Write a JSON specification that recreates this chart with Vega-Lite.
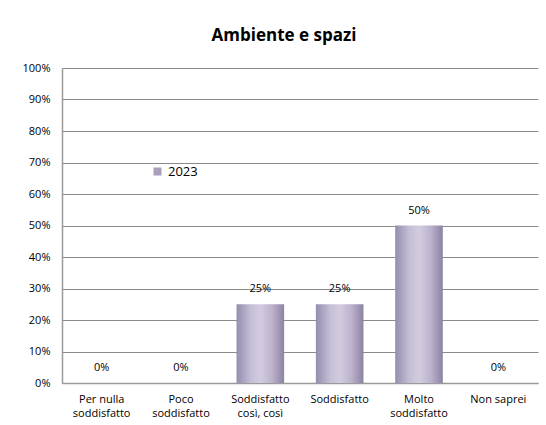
{
  "$schema": "https://vega.github.io/schema/vega-lite/v6.json",
  "autosize": {"type": "none"},
  "padding": {"left": 62, "top": 68, "right": 8, "bottom": 42},
  "width": 476,
  "height": 315,
  "background": "white",
  "title": {"text": "Ambiente e spazi", "font": "Open Sans", "fontSize": 17, "fontWeight": "bold", "color": "#000000", "anchor": "middle", "dx": -16, "offset": 17},
  "data": {"values": [
    {"cat": "Per nulla|soddisfatto", "v": 0, "year": "2023"},
    {"cat": "Poco|soddisfatto", "v": 0, "year": "2023"},
    {"cat": "Soddisfatto|così, così", "v": 0.25, "year": "2023"},
    {"cat": "Soddisfatto", "v": 0.25, "year": "2023"},
    {"cat": "Molto|soddisfatto", "v": 0.5, "year": "2023"},
    {"cat": "Non saprei", "v": 0, "year": "2023"}
  ]},
  "encoding": {
    "x": {"field": "cat", "type": "nominal", "sort": null, "title": null,
      "scale": {"paddingInner": 0.4, "paddingOuter": 0.2},
      "axis": {"labelAngle": 0, "labelExpr": "split(datum.value, '|')", "labelFont": "Open Sans", "labelFontSize": 11, "labelColor": "#000000", "labelPadding": 10, "ticks": false, "domainColor": "#9a9a9a", "domainWidth": 1.5, "labelLineHeight": 14}},
    "y": {"field": "v", "type": "quantitative", "title": null,
      "scale": {"domain": [0, 1], "nice": false},
      "axis": {"format": ".0%", "values": [0, 0.1, 0.2, 0.3, 0.4, 0.5, 0.6, 0.7, 0.8, 0.9, 1], "labelOverlap": false, "labelFont": "Open Sans", "labelFontSize": 11, "labelColor": "#000000", "labelPadding": 12, "ticks": false, "domainColor": "#9a9a9a", "domainWidth": 1.5, "gridColor": "#8a8a8a", "gridWidth": 1.2}}
  },
  "layer": [
    {"mark": {"type": "bar", "color": {"gradient": "linear", "x1": 0, "x2": 1, "y1": 0, "y2": 0, "stops": [
      {"offset": 0, "color": "#968cad"},
      {"offset": 0.3, "color": "#c6bed7"},
      {"offset": 0.5, "color": "#d3cce0"},
      {"offset": 0.75, "color": "#bcb2cd"},
      {"offset": 1, "color": "#8c82a2"}]}}},
    {"mark": {"type": "text", "dy": -10, "baseline": "bottom", "font": "Open Sans", "fontSize": 11, "color": "#000000"},
      "encoding": {"text": {"field": "v", "type": "quantitative", "format": ".0%"}}},
    {"mark": {"type": "square", "opacity": 0},
      "encoding": {"color": {"field": "year", "type": "nominal", "title": null,
        "scale": {"range": ["#a89fbd"]},
        "legend": {"orient": "none", "legendX": 89, "legendY": 97, "symbolType": "square", "symbolSize": 64, "symbolOpacity": 1, "symbolStrokeWidth": 0, "labelFont": "Open Sans", "labelFontSize": 13, "labelColor": "#000000", "labelOffset": 4}}}}
  ],
  "config": {"view": {"stroke": null}, "axis": {"grid": true}, "axisX": {"grid": false}}
}
